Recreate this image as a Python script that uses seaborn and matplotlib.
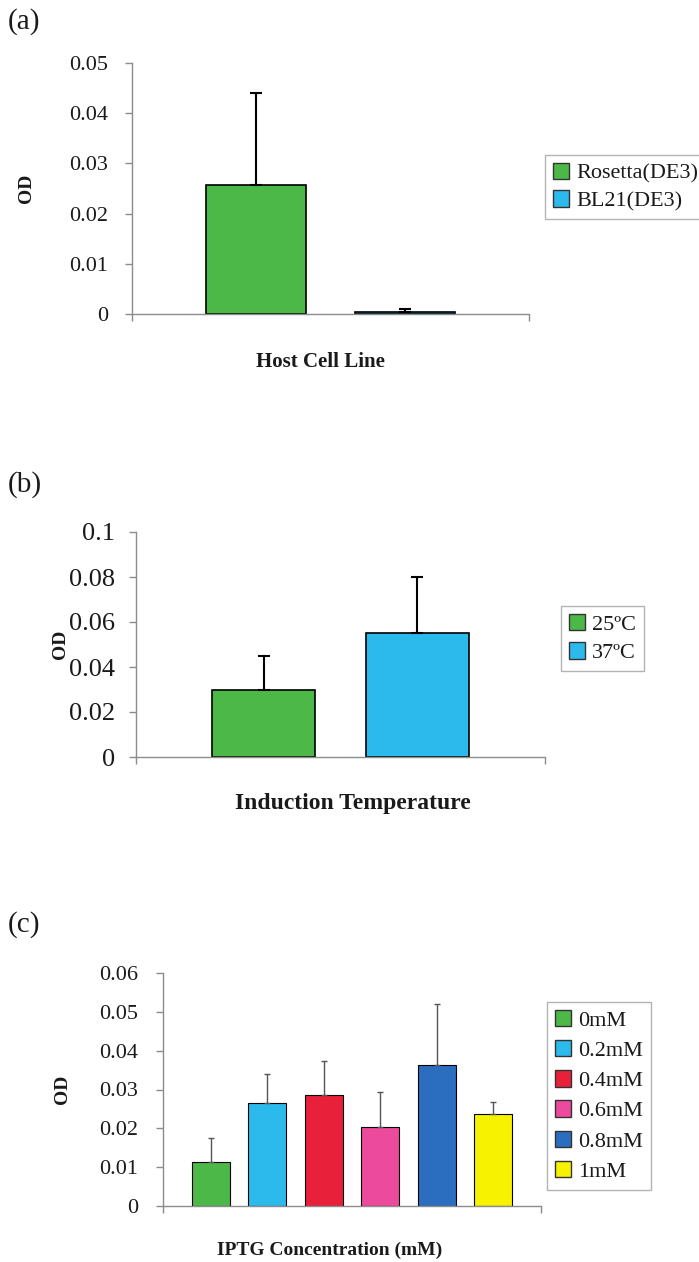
import numpy as np
import pandas as pd
import matplotlib
matplotlib.use("Agg")
import matplotlib.pyplot as plt
import seaborn as sns

# ---------------- data ----------------
# Panel (a): host cell line
host_lines = ["Rosetta(DE3)", "BL21(DE3)"]
host_od = [0.0257, 0.0003]
host_err = [0.0184, 0.0006]

# Panel (b): induction temperature
temps = ["25ºC", "37ºC"]
temp_od = [0.030, 0.055]
temp_err = [0.015, 0.025]

# Panel (c): IPTG concentration
iptg = ["0mM", "0.2mM", "0.4mM", "0.6mM", "0.8mM", "1mM"]
iptg_od = [0.0114, 0.0264, 0.0287, 0.0203, 0.0363, 0.0236]
iptg_err = [0.0060, 0.0075, 0.0087, 0.0091, 0.0158, 0.0032]

colors_a = ["#4CB848", "#2CB9EC"]
colors_b = ["#4CB848", "#2CB9EC"]
colors_c = ["#4CB848", "#2CB9EC", "#E8203A", "#EC4A9C", "#2B6EBF", "#F6F200"]

yticks_a = [0, 0.01, 0.02, 0.03, 0.04, 0.05]
yticks_b = [0, 0.02, 0.04, 0.06, 0.08, 0.1]
yticks_c = [0, 0.01, 0.02, 0.03, 0.04, 0.05, 0.06]
ticklabels_a = ["0", "0.01", "0.02", "0.03", "0.04", "0.05"]
ticklabels_b = ["0", "0.02", "0.04", "0.06", "0.08", "0.1"]
ticklabels_c = ["0", "0.01", "0.02", "0.03", "0.04", "0.05", "0.06"]

# ---------------- style ----------------
sns.set_style("white")
plt.rcParams["font.family"] = ["Liberation Serif", "DejaVu Serif"]
plt.rcParams["mathtext.fontset"] = "stix"

W, H = 699, 1262
fig = plt.figure(figsize=(W / 100, H / 100), dpi=100)

SPINE = "#8c8c8c"


def px_axes(left, top, right, bottom):
    return fig.add_axes([left / W, 1 - bottom / H, (right - left) / W, (bottom - top) / H])


def panel(ax, names, vals, errs, colors, yticks, yticklabels, xlabel,
          width, gap, tick_fs, label_fs, xlabel_xy, ylabel_xy, legend_xy,
          ylab_fs=14, err_lw=1.5, err_color="black", capsize=4, edge_lw=1.2, ypad=12,
          labelspacing=0.42):
    df = pd.DataFrame({"group": [""] * len(names), "series": names, "OD": vals})
    sns.barplot(data=df, x="group", y="OD", hue="series", hue_order=names,
                palette=colors, width=width, gap=gap, saturation=1,
                edgecolor="black", linewidth=edge_lw, errorbar=None,
                legend=True, ax=ax)
    for cont, err in zip(ax.containers, errs):
        bar = cont.patches[0]
        x = bar.get_x() + bar.get_width() / 2
        ax.errorbar(x, bar.get_height(), yerr=[[0], [err]], fmt="none",
                    ecolor=err_color, elinewidth=err_lw, capsize=capsize,
                    capthick=err_lw, zorder=1)
    ax.set_xlim(-0.5, 0.5)
    ax.set_ylim(yticks[0], yticks[-1])
    ax.set_yticks(yticks)
    ax.set_yticklabels(yticklabels)
    ax.set_xticks([-0.5, 0.5])
    ax.set_xticklabels([])
    sns.despine(ax=ax)
    for s in ["left", "bottom"]:
        ax.spines[s].set_color(SPINE)
        ax.spines[s].set_linewidth(1.0)
    ax.tick_params(axis="both", direction="out", length=5, width=1.0, color=SPINE,
                   labelsize=tick_fs, labelcolor="#1a1a1a")
    ax.tick_params(axis="y", pad=ypad, left=True)
    ax.tick_params(axis="x", bottom=True)
    ax.set_xlabel(xlabel, fontsize=label_fs, fontweight="bold", color="#1a1a1a")
    ax.xaxis.label.set_va("center")
    ax.xaxis.set_label_coords(*xlabel_xy)
    ax.set_ylabel("OD", fontsize=ylab_fs, fontweight="bold", color="#1a1a1a")
    ax.yaxis.label.set_va("center")
    ax.yaxis.set_label_coords(*ylabel_xy)

    handles, labels = ax.get_legend_handles_labels()
    ax.get_legend().remove()
    for h in handles:
        h.set_edgecolor("#333333")
        h.set_linewidth(1.0)
    leg = ax.legend(handles, labels, loc="upper left",
                    bbox_to_anchor=(legend_xy[0] / W, 1 - legend_xy[1] / H),
                    bbox_transform=fig.transFigure, fontsize=16,
                    frameon=True, fancybox=False, shadow=False,
                    handlelength=0.75, handleheight=0.75, handletextpad=0.3,
                    labelspacing=labelspacing, borderpad=0.35, borderaxespad=0)
    leg.get_frame().set_edgecolor("#a0a0a0")
    leg.get_frame().set_linewidth(1.0)
    for t in leg.get_texts():
        t.set_color("#1a1a1a")


# Panel (a)
ax_a = px_axes(132, 63, 529, 314)
panel(ax_a, host_lines, host_od, host_err, colors_a, yticks_a, ticklabels_a,
      "Host Cell Line", width=0.75, gap=0.33, tick_fs=16, label_fs=15,
      xlabel_xy=((320 - 132) / 397, -(362 - 314) / 251),
      ylabel_xy=((27 - 132) / 397, 0.5), legend_xy=(545, 155), ypad=12,
      labelspacing=0.3)

# Panel (b)
ax_b = px_axes(136, 532, 545, 757)
panel(ax_b, temps, temp_od, temp_err, colors_b, yticks_b, ticklabels_b,
      "Induction Temperature", width=0.753, gap=0.335, tick_fs=19, label_fs=17,
      xlabel_xy=((353 - 136) / 409, -(803 - 757) / 225),
      ylabel_xy=((60 - 136) / 409, 0.5), legend_xy=(561, 606), ypad=10,
      labelspacing=0.35)

# Panel (c)
ax_c = px_axes(163, 973, 541, 1206)
panel(ax_c, iptg, iptg_od, iptg_err, colors_c, yticks_c, ticklabels_c,
      "IPTG Concentration (mM)", width=0.897, gap=0.333, tick_fs=16, label_fs=14,
      xlabel_xy=((330 - 163) / 378, -(1250 - 1206) / 233),
      ylabel_xy=((63 - 163) / 378, 0.5), legend_xy=(547, 1002), ypad=13,
      err_lw=1.0, err_color="#555555", capsize=2.5, edge_lw=0.8,
      labelspacing=0.42)

# Panel letters
fig.text(8 / W, 1 - 22 / H, "(a)", fontsize=21, va="center", ha="left", color="#1a1a1a")
fig.text(8 / W, 1 - 485 / H, "(b)", fontsize=21, va="center", ha="left", color="#1a1a1a")
fig.text(8 / W, 1 - 925 / H, "(c)", fontsize=21, va="center", ha="left", color="#1a1a1a")

fig.savefig("out.png", dpi=100)
